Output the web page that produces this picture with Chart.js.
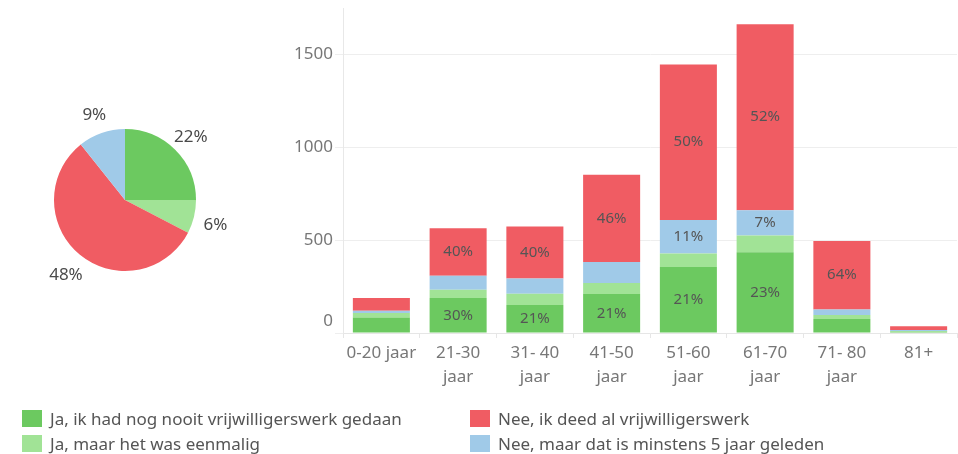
<!DOCTYPE html>
<html>
<head>
<meta charset="utf-8">
<script src="https://cdn.jsdelivr.net/npm/chart.js@4/dist/chart.umd.min.js"></script>
<style>
  html, body { margin: 0; padding: 0; background: #fff; }
  body { width: 958px; height: 454px; position: relative; overflow: hidden; font-family: "Noto Sans", sans-serif; }
  #pieBox { position: absolute; left: 0; top: 0; }
  #barBox { position: absolute; left: 280px; top: 0; }
  #legend { position: absolute; left: 0; top: 0; width: 958px; height: 454px; pointer-events: none; }
  .lg { position: absolute; display: flex; align-items: center; font-size: 17px; color: #555; white-space: nowrap; }
  .sw { width: 20px; height: 17px; margin-right: 8px; flex: none; }
</style>
</head>
<body>
<div id="pieBox"><canvas id="pie" width="270" height="400"></canvas></div>
<div id="barBox"><canvas id="bar" width="678" height="400"></canvas></div>
<div id="legend"></div>
<script>
// ---- data ----
const xLabels = [['0-20 jaar'], ['21-30', 'jaar'], ['31- 40', 'jaar'], ['41-50', 'jaar'], ['51-60', 'jaar'], ['61-70', 'jaar'], ['71- 80', 'jaar'], ['81+']];
const seriesNames = ['Ja, ik had nog nooit vrijwilligerswerk gedaan', 'Ja, maar het was eenmalig', 'Nee, maar dat is minstens 5 jaar geleden', 'Nee, ik deed al vrijwilligerswerk'];
const greenValues = [84, 188, 151, 210, 355, 435, 75, 7];
const lightGreenValues = [24, 45, 61, 59, 73, 90, 22, 4];
const blueValues = [12, 75, 81, 113, 181, 136, 30, 5];
const redValues = [68, 256, 280, 470, 837, 1002, 369, 21];
const greenLabels = [null, '30%', '21%', '21%', '21%', '23%', null, null];
const lightGreenLabels = [null, null, null, null, null, null, null, null];
const blueLabels = [null, null, null, null, '11%', '7%', null, null];
const redLabels = [null, '40%', '40%', '46%', '50%', '52%', '64%', null];
const yTicks = [0, 500, 1000, 1500];
const yMax = 1750;
const pieNames = ['Ja, ik had nog nooit vrijwilligerswerk gedaan', 'Ja, maar het was eenmalig', 'Nee, ik deed al vrijwilligerswerk', 'Nee, maar dat is minstens 5 jaar geleden'];
const pieValues = [25, 7.6, 56.7, 10.7];
const pieLabels = ['22%', '6%', '48%', '9%'];

// ---- styles ----
const COLORS = {
  green: '#6CC960',
  lightGreen: '#A1E396',
  blue: '#A0CAE8',
  red: '#F05C63'
};
Chart.defaults.font.family = '"Noto Sans", sans-serif';
Chart.defaults.animation = false;

// ---- pie ----
const pieLabelPlugin = {
  id: 'pieLabels',
  afterDatasetsDraw(chart) {
    const ctx = chart.ctx;
    const meta = chart.getDatasetMeta(0);
    ctx.save();
    ctx.font = '17px "Noto Sans", sans-serif';
    ctx.fillStyle = '#4a4a4a';
    ctx.textAlign = 'center';
    ctx.textBaseline = 'middle';
    meta.data.forEach((arc, i) => {
      const p = arc.getProps(['x', 'y', 'startAngle', 'endAngle', 'outerRadius'], true);
      const mid = (p.startAngle + p.endAngle) / 2;
      const r = p.outerRadius + 22;
      ctx.fillText(pieLabels[i], p.x + Math.cos(mid) * r, p.y + Math.sin(mid) * r + 3);
    });
    ctx.restore();
  }
};

new Chart(document.getElementById('pie'), {
  type: 'pie',
  data: {
    labels: pieNames,
    datasets: [{
      data: pieValues,
      backgroundColor: [COLORS.green, COLORS.lightGreen, COLORS.red, COLORS.blue],
      borderWidth: 0
    }]
  },
  options: {
    responsive: false,
    layout: { padding: { left: 54, right: 74, top: 129, bottom: 129 } },
    plugins: { legend: { display: false }, tooltip: { enabled: false } }
  },
  plugins: [pieLabelPlugin]
});

// ---- bar ----
const barLabelPlugin = {
  id: 'barLabels',
  afterDatasetsDraw(chart) {
    const ctx = chart.ctx;
    ctx.save();
    ctx.font = '15px "Noto Sans", sans-serif';
    ctx.fillStyle = '#555';
    ctx.textAlign = 'center';
    ctx.textBaseline = 'middle';
    chart.data.datasets.forEach((ds, di) => {
      const meta = chart.getDatasetMeta(di);
      meta.data.forEach((bar, j) => {
        const t = ds.segLabels[j];
        if (!t) return;
        const p = bar.getProps(['x', 'y', 'base'], true);
        ctx.fillText(t, p.x, (p.y + p.base) / 2);
      });
    });
    // zero tick label, kept inside the plot like the original
    const y = chart.scales.y;
    ctx.font = '17px "Noto Sans", sans-serif';
    ctx.fillStyle = '#777';
    ctx.textAlign = 'right';
    ctx.fillText(String(yTicks[0]), y.right - 10, y.getPixelForValue(yTicks[0]) - 12);
    ctx.restore();
  }
};

function mk(label, data, color, segLabels) {
  return { label, data, backgroundColor: color, borderWidth: 0, segLabels,
           barPercentage: 0.743, categoryPercentage: 1.0 };
}

new Chart(document.getElementById('bar'), {
  type: 'bar',
  data: {
    labels: xLabels,
    datasets: [
      mk(seriesNames[0], greenValues, COLORS.green, greenLabels),
      mk(seriesNames[1], lightGreenValues, COLORS.lightGreen, lightGreenLabels),
      mk(seriesNames[2], blueValues, COLORS.blue, blueLabels),
      mk(seriesNames[3], redValues, COLORS.red, redLabels)
    ]
  },
  options: {
    responsive: false,
    layout: { padding: { top: 8, right: 1, left: 0, bottom: 0 } },
    plugins: { legend: { display: false }, tooltip: { enabled: false } },
    scales: {
      x: {
        stacked: true,
        grid: { offset: true, drawOnChartArea: false, tickLength: 5, color: '#e6e6e6' },
        border: { display: true, color: '#e6e6e6' },
        ticks: { color: '#777', font: { size: 17, lineHeight: 1.41 }, maxRotation: 0, autoSkip: false, padding: 3 },
        afterFit(s) { s.height = 67; }
      },
      y: {
        stacked: true,
        min: 0,
        max: yMax,
        afterBuildTicks(s) { s.ticks = yTicks.map(v => ({ value: v })); },
        grid: { color: '#eeeeee', tickLength: 8 },
        border: { display: true, color: '#e8e8e8' },
        ticks: {
          color: (c) => c.tick && c.tick.value === 0 ? 'rgba(0,0,0,0)' : '#777',
          font: { size: 17 },
          padding: 2,
          callback: (v) => String(v)
        },
        afterFit(s) { s.width = 63; s.paddingTop = 0; s.paddingBottom = 0; }
      }
    }
  },
  plugins: [barLabelPlugin]
});

// ---- legend (built from the series names/colours) ----
const legendItems = [
  { name: seriesNames[0], color: COLORS.green, col: 0, row: 0 },
  { name: seriesNames[3], color: COLORS.red, col: 1, row: 0 },
  { name: seriesNames[1], color: COLORS.lightGreen, col: 0, row: 1 },
  { name: seriesNames[2], color: COLORS.blue, col: 1, row: 1 }
];
const legendEl = document.getElementById('legend');
legendItems.forEach(it => {
  const d = document.createElement('div');
  d.className = 'lg';
  d.style.left = (it.col === 0 ? 22 : 470) + 'px';
  d.style.top = (409 + it.row * 25) + 'px';
  d.style.height = '18px';
  const sw = document.createElement('span');
  sw.className = 'sw';
  sw.style.background = it.color;
  const tx = document.createElement('span');
  tx.textContent = it.name;
  d.appendChild(sw); d.appendChild(tx);
  legendEl.appendChild(d);
});
</script>
</body>
</html>
